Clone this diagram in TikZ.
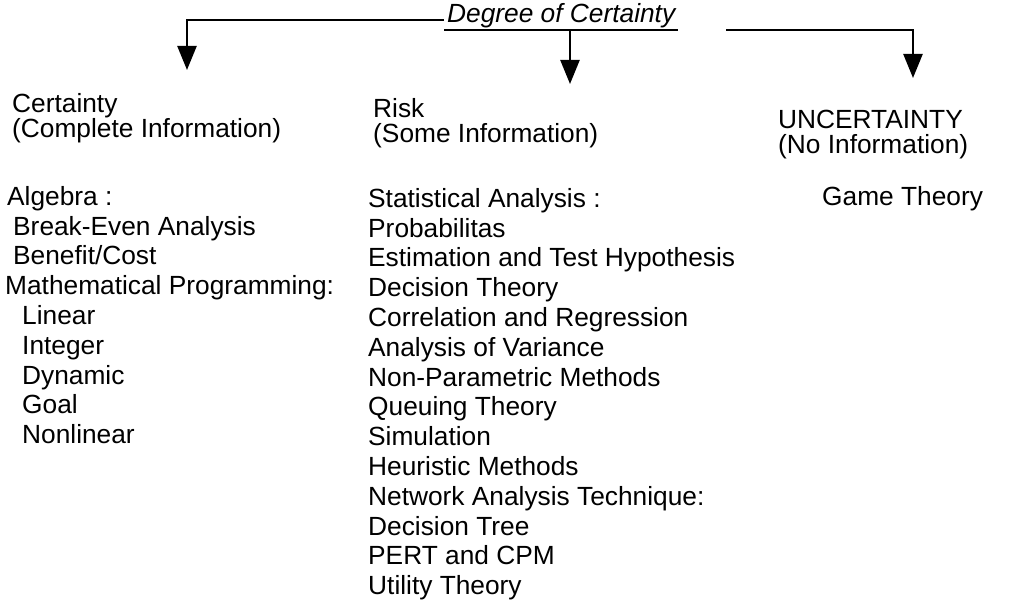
\documentclass[tikz,border=0pt]{standalone}
\usepackage{fontspec}
\setmainfont{Liberation Sans}
\usetikzlibrary{positioning, arrows.meta}
\tikzstyle{arrow} = [line width=2.4pt, -{Triangle[length=24pt,width=19pt]}]
\tikzstyle{head} = [align=left, inner sep=0pt, font=\fontsize{26.3}{25}\selectfont]
\tikzstyle{list} = [align=left, inner sep=0pt, font=\fontsize{26.3}{29.8}\selectfont]

\begin{document}
\begin{tikzpicture}[x=1pt, y=-1pt]
	\useasboundingbox (0,0) rectangle (1013,609);
	\node (title) [anchor=base west, inner xsep=3pt, inner ysep=1.5pt, font=\fontsize{26.3}{30}\selectfont\itshape] at (444,23) {Degree of Certainty};
	\draw[line width=1.8pt] (title.south west) -- (title.south east);
	\coordinate (tipA) at (187,70);
	\coordinate (tipB) at (570,84);
	\coordinate (tipC) at (913,78);
	\draw[arrow] ([yshift=-4]title.west) -| (tipA);
	\draw[arrow] (title.south -| tipB) -- (tipB);
	\draw[arrow] ([xshift=48]title.south east) -| (tipC);
	% the three kinds of information
	\node (certain) [head, anchor=north west] at (12,93) {Certainty\\(Complete Information)};
	\node (risk) [head, anchor=north west] at (373,98) {Risk\\(Some Information)};
	\node (uncert) [head, anchor=north west] at (778,110) {UNCERTAINTY\\(No Information)};
	% methods
	\node (algebra) [list, anchor=north west] at (5,186) {\hspace*{2pt}Algebra :\\
		\hspace*{8pt}Break-Even Analysis\\
		\hspace*{8pt}Benefit/Cost\\
		Mathematical Programming:\\
		\hspace*{17pt}Linear\\
		\hspace*{17pt}Integer\\
		\hspace*{17pt}Dynamic\\
		\hspace*{17pt}Goal\\
		\hspace*{17pt}Nonlinear};
	\node (stat) [list, anchor=north west] at (368,188) {Statistical Analysis :\\
		Probabilitas\\
		Estimation and Test Hypothesis\\
		Decision Theory\\
		Correlation and Regression\\
		Analysis of Variance\\
		Non-Parametric Methods\\
		Queuing Theory\\
		Simulation\\
		Heuristic Methods\\
		Network Analysis Technique:\\
		Decision Tree\\
		PERT and CPM\\
		Utility Theory};
	\node (game) [list, anchor=north west] at (822,186) {Game Theory};
\end{tikzpicture}
\end{document}
